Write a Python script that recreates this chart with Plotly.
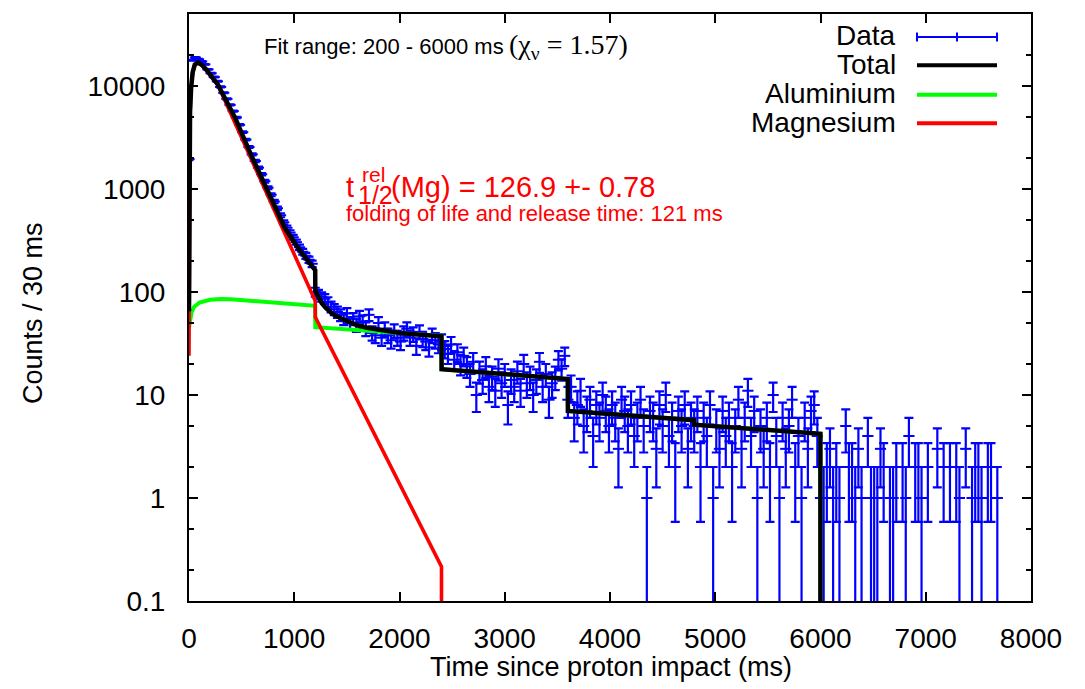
import numpy as np
import plotly.graph_objects as go

# ---------------- data (counts per 30 ms bin) ----------------
BIN_MS = 30
counts = np.array([
    # 0 - 1170 ms
    1950, 17800, 18900, 18200, 17300, 16200, 14500, 13300, 12200, 11100,
    9800, 8600, 7500, 6550, 5700, 4950, 4200, 3560, 3020, 2560,
    2170, 1870, 1610, 1390, 1190, 1030, 880, 755, 650, 555,
    475, 420, 378, 340, 305, 272, 246, 225, 206, 188,
    # 1200 - 2370 ms
    100, 95, 90, 86, 80, 72, 68, 64, 60, 55,
    62, 50, 55, 48, 58, 52, 44, 60, 40, 38,
    50, 36, 44, 38, 34, 42, 36, 33, 40, 44,
    36, 39, 30, 41, 35, 33, 29, 38, 34, 31,
    # 2400 - 3570 ms
    33, 28, 25, 31, 22, 26, 20, 24, 19, 16,
    21, 10, 17, 14, 19, 12, 15, 11, 18, 13,
    16, 8, 14, 12, 17, 11, 20, 13, 15, 10,
    14, 21, 12, 16, 9, 13, 15, 22, 18, 24,
    # 3600 - 4770 ms
    9, 12, 6, 8, 11, 5, 7, 9, 4, 8,
    6, 10, 7, 5, 8, 6, 3, 9, 7, 5,
    8, 4, 6, 9, 5, 1, 7, 6, 3, 8,
    5, 10, 4, 6, 2, 7, 5, 8, 3, 6,
    # 4800 - 5970 ms
    5, 7, 2, 6, 4, 8, 1, 5, 3, 7,
    4, 6, 2, 5, 9, 3, 6, 11, 4, 7,
    1, 5, 3, 6, 2, 10, 4, 1, 6, 3,
    5, 9, 2, 4, 1, 6, 3, 7, 8, 4,
    # 6000 - 7680 ms
    1, 1, 2, 3, 1, 2, 1, 0, 5, 2,
    2, 1, 3, 1, 0, 4, 1, 1, 1, 3,
    2, 0, 1, 1, 2, 0, 2, 1, 4, 0,
    2, 2, 1, 0, 2, 0, 0, 3, 0, 2,
    0, 2, 0, 2, 1, 0, 3, 0, 1, 2,
    2, 1, 0, 2, 2, 0, 1,
])
time_ms = np.arange(len(counts)) * BIN_MS

# ---------------- fitted curves ----------------
total_t = [0, 1, 3, 5, 10, 20, 35, 55, 85, 120, 160, 275, 440, 600, 750, 910,
           1050, 1199, 1200, 1230, 1260, 1300, 1368, 1450, 1530, 1600, 1691,
           1850, 2005, 2200, 2399, 2400, 3000, 3599, 3600, 4200, 4799, 4800,
           5400, 5999, 6000]
total_v = [65, 400, 1500, 2550, 5600, 9600, 13600, 16100, 16900, 16100, 14600,
           10300, 4880, 2030, 960, 420, 255, 163, 104, 88, 78, 70, 61, 55,
           50.5, 47.5, 45, 42, 40, 38.5, 37.2, 17.8, 15.9, 14.3, 7.0, 6.3,
           5.7, 5.15, 4.65, 4.2, 0.001]

al_t = [0, 10, 25, 50, 100, 200, 300, 400, 600, 900, 1199, 1200, 1500, 2000,
        2399, 2400, 3000, 3599, 3600, 4200, 4799, 4800, 5400, 5999, 6000]
al_v = [45, 55, 64, 72, 79, 84, 85.5, 85, 82, 77.5, 73.5, 45.5, 43, 40, 37.5,
        17.8, 15.9, 14.3, 7.0, 6.3, 5.7, 5.15, 4.65, 4.2, 0.001]

mg_t = [0, 1, 3, 5, 10, 20, 35, 55, 85, 120, 160, 275, 1199, 1200, 2399, 2400]
mg_v = [24, 340, 1460, 2500, 5550, 9550, 13550, 16030, 16820, 16020, 14520,
        10220, 82, 57, 0.215, 0.001]

ytick_vals = [0.1, 1, 10, 100, 1000, 10000]
ytick_text = ["0.1", "1", "10", "100", "1000", "10000"]
yminor_vals = [0.2, 0.5, 2, 5, 20, 50, 200, 500, 2000, 5000, 20000]
xtick_vals = [0, 1000, 2000, 3000, 4000, 5000, 6000, 7000, 8000]

legend_names = ["Data", "Total", "Aluminium", "Magnesium"]
legend_colors = ["#0000ff", "#000000", "#00ff00", "#ff0000"]

BLUE, BLACK, GREEN, RED = legend_colors
FONT = "Liberation Sans, Arial, Helvetica, sans-serif"

# ---------------- figure ----------------
mask = counts > 0
fig = go.Figure()
fig.add_trace(go.Scatter(
    x=time_ms[mask], y=counts[mask], mode="markers", name="Data",
    marker=dict(symbol="line-ew-open", size=8, color=BLUE,
                line=dict(color=BLUE, width=2)),
    error_y=dict(type="data", array=np.sqrt(counts[mask]), visible=True,
                 color=BLUE, thickness=2.2, width=4.5),
))
fig.add_trace(go.Scatter(x=al_t, y=al_v, mode="lines", name="Aluminium",
                         line=dict(color=GREEN, width=4)))
fig.add_trace(go.Scatter(x=mg_t, y=mg_v, mode="lines", name="Magnesium",
                         line=dict(color=RED, width=3.6)))
fig.add_trace(go.Scatter(x=total_t, y=total_v, mode="lines", name="Total",
                         line=dict(color=BLACK, width=4.5)))

L, R, T, B = 189, 1031, 12, 601
W, H = 1085, 689


def px(xp):
    return (xp - L) / (R - L)


def py(yp):
    return (B - yp) / (B - T)


ann = []
shapes = []

# legend (gnuplot style: text right aligned, sample on the right)
leg_rows = [34, 62.5, 92, 120.5]
for name, col, yr in zip(legend_names, legend_colors, leg_rows):
    ann.append(dict(text=name, x=px(898), y=py(yr), xref="paper", yref="paper",
                    xanchor="right", yanchor="middle", showarrow=False,
                    font=dict(family=FONT, size=28, color="black")))
    ys = py(yr + 1)
    if name == "Data":
        shapes.append(dict(type="line", xref="paper", yref="paper",
                           x0=px(917), x1=px(997), y0=ys, y1=ys,
                           line=dict(color=col, width=2)))
        for xx in (917, 957, 997):
            shapes.append(dict(type="line", xref="paper", yref="paper",
                               x0=px(xx), x1=px(xx), y0=py(yr + 1 - 4.5),
                               y1=py(yr + 1 + 4.5),
                               line=dict(color=col, width=2)))
    else:
        shapes.append(dict(type="line", xref="paper", yref="paper",
                           x0=px(917), x1=px(997), y0=ys, y1=ys,
                           line=dict(color=col, width=4)))

# text labels
ann += [
    dict(text="Fit range: 200 - 6000 ms", x=px(262), y=py(44.5),
         font=dict(family=FONT, size=22, color="black")),
    dict(text="(χ<sub>ν</sub> = 1.57)", x=px(507), y=py(44.5),
         font=dict(family="Liberation Serif, Times New Roman, serif", size=28,
                   color="black")),
    dict(text="t", x=px(344), y=py(185.5),
         font=dict(family=FONT, size=29, color=RED)),
    dict(text="rel", x=px(360), y=py(173),
         font=dict(family=FONT, size=21, color=RED)),
    dict(text="1/2", x=px(356), y=py(193.5),
         font=dict(family=FONT, size=25, color=RED)),
    dict(text="(Mg) = 126.9 +- 0.78", x=px(389), y=py(185.5),
         font=dict(family=FONT, size=29, color=RED)),
    dict(text="folding of life and release time: 121 ms", x=px(344),
         y=py(212.5), font=dict(family=FONT, size=22, color=RED)),
]
for a in ann[len(legend_names):]:
    a.update(xref="paper", yref="paper", xanchor="left", yanchor="middle",
             showarrow=False)

# axis titles
ann.append(dict(text="Time since proton impact (ms)", x=px(611), y=py(667),
                xref="paper", yref="paper", xanchor="center", yanchor="middle",
                showarrow=False, font=dict(family=FONT, size=27, color="black")))
ann.append(dict(text="Counts / 30 ms", x=px(33), y=py(312), textangle=-90,
                xref="paper", yref="paper", xanchor="center", yanchor="middle",
                showarrow=False, font=dict(family=FONT, size=27, color="black")))

axis_common = dict(showline=True, linewidth=2, linecolor="black",
                   mirror="allticks", ticks="inside", ticklen=9, tickwidth=2,
                   tickcolor="black", showgrid=False, zeroline=False,
                   tickfont=dict(family=FONT, size=28, color="black"))

fig.update_layout(
    width=W, height=H,
    margin=dict(l=L, r=W - R, t=T, b=H - B, pad=0),
    paper_bgcolor="white", plot_bgcolor="white",
    showlegend=False,
    annotations=ann, shapes=shapes,
    xaxis=dict(range=[0, 8000], tickvals=xtick_vals,
               ticklabelstandoff=11, **axis_common),
    yaxis=dict(type="log", range=[-1, np.log10(50000)], tickvals=ytick_vals,
               ticktext=ytick_text, ticklabelstandoff=16,
               minor=dict(ticks="inside", ticklen=5, tickwidth=2,
                          tickcolor="black", tickvals=yminor_vals),
               **axis_common),
)

fig.write_html("out.html")
